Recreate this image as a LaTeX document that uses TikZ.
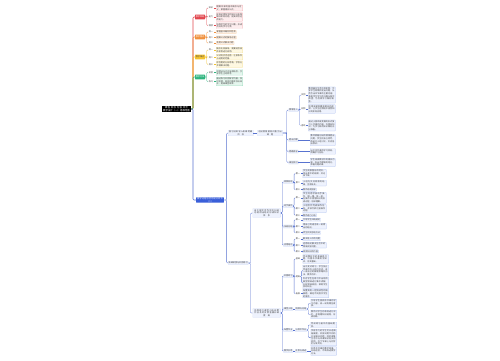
\documentclass[tikz,border=0pt]{standalone}
\usepackage{fontspec}
\newfontfamily\cjk{Noto Sans CJK SC}
\XeTeXlinebreaklocale "zh"
\XeTeXlinebreakskip=0pt plus 1pt
\usetikzlibrary{positioning}
\definecolor{redc}{HTML}{E2474F}\definecolor{redbg}{HTML}{FDEDEE}\definecolor{redbd}{HTML}{F4A9AE}
\definecolor{orgc}{HTML}{F0913E}\definecolor{orgbg}{HTML}{FEF2E7}\definecolor{orgbd}{HTML}{F8C899}
\definecolor{yelc}{HTML}{F2C230}\definecolor{yelbg}{HTML}{FEF8E1}\definecolor{yelbd}{HTML}{F3DE8E}
\definecolor{grnc}{HTML}{2FB57F}\definecolor{grnbg}{HTML}{E5F6EE}\definecolor{grnbd}{HTML}{94D9BA}
\definecolor{bluc}{HTML}{3A5FD9}\definecolor{blubg}{HTML}{EEF2FD}\definecolor{blubd}{HTML}{AABEF0}
\definecolor{bluln}{HTML}{5873D0}
\tikzset{
  txt/.style={font=\cjk\fontsize{2.1}{2.6}\selectfont, inner sep=0.6pt, text=black!75},
  tag/.style={txt, anchor=west},
  mid/.style={txt, anchor=west, fill=blubg, draw=blubd!60, line width=0.2pt, rounded corners=0.4pt},
  leaf/.style={txt, anchor=west, draw=#1bd, fill=#1bg, line width=0.2pt, rounded corners=0.4pt, align=left},
  brn/.style={txt, text=white, fill=#1c, rounded corners=0.5pt, minimum width=10pt, minimum height=4.6pt, inner sep=0.4pt},
  rootn/.style={font=\cjk\fontsize{2.4}{3.1}\selectfont, fill=black, text=white, align=center, text width=27pt, inner sep=0.8pt},
  lnk/.style={line width=0.35pt, rounded corners=1pt, draw=#1},
  elbow/.style={to path={-- ++(#1,0) |- (\tikztotarget)}},
}
\begin{document}
\begin{tikzpicture}[x=1pt, y=-1pt]
\fill[white] (0,0) rectangle (500,360);
\useasboundingbox (0,0) rectangle (500,360);

\node[rootn] (root) at (176.5,109) {课程 目标 内容 评价\\教学设计（一）思维导图};

%upper branches
\node[brn=red] (red) at (200,17) {教学目标};
\node[brn=org] (org) at (200,37) {教学重点};
\node[brn=yel, text=black!70] (yel) at (200,57) {教学难点};
\node[brn=grn] (grn) at (200,77) {教学方法};

\node[tag] (rt1) at (208,8) {知识};
\node[tag] (rt2) at (208,17) {能力};
\node[tag] (rt3) at (208,25.5) {情感};
\node[leaf=red, text width=25.5pt] (rb1) at (216,8) {理解本课的基本概念与定义，掌握相关公式。};
\node[leaf=red, text width=25.5pt] (rb2) at (216,17) {能够运用所学的知识分析和解决实际问题，提高综合运用能力。};
\node[leaf=red, text width=25.5pt] (rb3) at (216,25.5) {培养学生的学习兴趣，形成良好的学习习惯。};

\node[tag] (ot1) at (208,32) {其一};
\node[tag] (ot2) at (208,37.5) {其二};
\node[tag] (ot3) at (208,43) {其三};
\node[leaf=org] (ob1) at (216,32) {掌握基本概念和性质};
\node[leaf=org] (ob2) at (216,37.5) {理解公式的推导过程};
\node[leaf=org] (ob3) at (216,43) {会用公式解决问题};

\node[tag] (yt1) at (208,50) {其一};
\node[tag] (yt2) at (208,57.2) {其二};
\node[tag] (yt3) at (208,64.4) {其三};
\node[leaf=yel, text width=25.5pt] (yb1) at (216,50) {概念比较抽象，需要结合具体实例进行说明。};
\node[leaf=yel, text width=25.5pt] (yb2) at (216,57.2) {公式的灵活运用，注意条件与适用的范围。};
\node[leaf=yel, text width=25.5pt] (yb3) at (216,64.4) {综合题的分析思路，学会分步骤解决问题。};

\node[tag] (gt1) at (208,72.5) {讲授};
\node[tag] (gt2) at (208,81.5) {练习};
\node[leaf=grn, text width=25.5pt] (gb1) at (216,72.5) {讲授法与讨论法相结合，引导学生主动思考。};
\node[leaf=grn, text width=25.5pt] (gb2) at (216,81.5) {通过练习巩固所学内容，及时反馈，发现问题并加以纠正，提高课堂效率。};

%lower branch
\node[brn=blu, text width=27pt, align=center] (blu) at (210,200) {教学过程与活动设计环节\\（二）};

\node[mid, text width=24pt, align=center] (a1) at (228,133) {复习旧知 导入新课 明确\\目标};
\node[mid, text width=24pt, align=center, right=4pt of a1] (a1b) {创设情境 激发兴趣 引出\\课题};

\node[mid] (c1) at (288.5,110) {情境导入};
\node[tag] (c1t1) at (300.5,95) {实例};
\node[tag] (c1t2) at (300.5,109) {视频};
\node[tag] (c1t3) at (300.5,125.5) {游戏};
\node[leaf=blu, text width=26pt] (c1b1) at (308,95) {教师展示生活中的实例，引导学生观察并提出问题，从而引出本节课的主要内容，激发学生学习的兴趣与探究欲望，为后续学习做好铺垫。};
\node[leaf=blu, text width=26pt] (c1b2) at (308,109) {利用多媒体播放相关的视频，让学生在情境中感受知识的实际应用。};
\node[leaf=blu, text width=26pt] (c1b3) at (308,125.5) {通过小游戏或竞赛的形式复习上节课的内容，巩固旧知识，为学习新的知识做好充分准备。};
\node[mid] (c2) at (288.5,140) {提出问题};
\node[mid] (c3) at (288.5,151.5) {明确目标};
\node[mid] (c4) at (288.5,162.5) {课前预习};
\node[leaf=blu, text width=24pt] (c2b) at (310,140) {教师根据创设的情境提出问题，学生先独立思考，再进行小组讨论，交流各自想法。};
\node[leaf=blu, text width=24pt] (c3b) at (310,151.5) {出示本节课的学习目标，明确学习任务。};
\node[leaf=blu, text width=24pt] (c4b) at (310,162.5) {学生阅读教材中的相关内容，标出不理解的地方，带着问题听课。};

\node[mid] (a2) at (228,263) {新课讲授与巩固练习};
\node[mid, text width=27pt, align=center] (b1) at (252.5,213) {自主探究 合作交流 归纳\\总结 得出结论 形成知识\\体系};
\node[mid, text width=27pt, align=center] (b2) at (252.5,313) {巩固练习 课堂小结 布置\\作业 及时反馈 查漏补缺\\提高};

\node[mid] (d1) at (283.3,182) {观察发现};
\node[tag] (d1t1) at (295,173.5) {第一};
\node[tag] (d1t2) at (295,183) {第二};
\node[tag] (d1t3) at (295,189.6) {第三};
\node[leaf=blu, text width=22.5pt] (d1b1) at (302.5,173.5) {学生观察图形的特点，找出其中的规律，并记录下来。};
\node[leaf=blu, text width=22.5pt] (d1b2) at (302.5,183) {小组内交流观察的结果，互相补充。};
\node[leaf=blu] (d1b3) at (302.5,189.6) {教师巡视指导};

\node[mid] (d2) at (283.3,206) {动手操作};
\node[tag] (d2t1) at (295,197.8) {第一};
\node[tag] (d2t2) at (295,208.5) {第二};
\node[tag] (d2t3) at (295,215.2) {第三};
\node[leaf=blu, text width=22.5pt] (d2b1) at (302.5,197.8) {学生利用学具动手操作，摆一摆、拼一拼，在操作中感悟知识的形成过程，加深理解。};
\node[leaf=blu, text width=22.5pt] (d2b2) at (302.5,208.5) {小组合作完成操作任务，并派代表汇报操作过程。};
\node[leaf=blu] (d2b3) at (302.5,215.2) {教师进行小结};

\node[mid] (d3) at (283.3,226.5) {归纳总结};
\node[tag] (d3t1) at (295,219.8) {第一};
\node[tag] (d3t2) at (295,226.2) {第二};
\node[tag] (d3t3) at (295,232.6) {第三};
\node[leaf=blu] (d3b1) at (302.5,219.8) {引导学生归纳结论};
\node[leaf=blu, text width=22.5pt] (d3b2) at (302.5,226.2) {用自己的语言说一说得出的结论。};
\node[leaf=blu] (d3b3) at (302.5,232.6) {师生共同总结方法};

\node[mid] (d4) at (283.3,245) {应用结论};
\node[tag] (d4t1) at (295,239) {第一};
\node[tag] (d4t2) at (295,245.2) {第二};
\node[tag] (d4t3) at (295,251.4) {第三};
\node[leaf=blu] (d4b1) at (302.5,239) {解决导入中的问题};
\node[leaf=blu, text width=22.5pt] (d4b2) at (302.5,245.2) {运用结论解决生活中的简单实际问题。};
\node[leaf=blu] (d4b3) at (302.5,251.4) {体会知识的价值};

\node[mid] (e1) at (283.3,276) {巩固练习};
\node[tag] (e1t1) at (295,259) {基础};
\node[tag] (e1t2) at (295,276.5) {提高};
\node[tag] (e1t3) at (295,293.6) {拓展};
\node[leaf=blu, text width=25pt] (e1b1) at (302.5,259) {完成教材中的基础练习题，巩固本节课所学知识，夯实基础。};
\node[leaf=blu, text width=25pt] (e1b2) at (302.5,270.6) {出示变式练习，学生独立完成后在小组内交流，说一说自己的解题思路和方法，教师点评。};
\node[leaf=blu, text width=25pt] (e1b3) at (302.5,283) {针对学生在练习中出现的典型错误进行集中讲解，分析错误原因，帮助学生及时纠正。};
\node[leaf=blu, text width=25pt] (e1b4) at (302.5,293.6) {布置具有一定挑战性的拓展题，满足不同层次学生的需求。};

\node[mid] (e2) at (283.3,309) {课堂小结};
\node[mid] (e2s) at (295,309) {回顾与总结};
\node[leaf=blu, text width=25pt] (e2b1) at (310.5,303.5) {引导学生回顾本节课的学习内容，说一说有哪些收获。};
\node[leaf=blu, text width=25pt] (e2b2) at (310.5,314.5) {教师对学生的表现进行评价，并梳理知识结构，形成网络。};

\node[mid] (e3) at (283.3,330) {布置作业};
\node[mid] (e3s) at (295,330) {分层次作业};
\node[leaf=blu, text width=25pt] (e3b1) at (310.5,325) {完成练习册中的基础题目。};
\node[leaf=blu, text width=25pt] (e3b2) at (310.5,337.6) {学有余力的学生可以选做拓展题，并尝试用不同的方法解决问题；同时收集生活中与本课知识有关的实例，在下节课上与同学们分享交流。};

\node[mid] (e4) at (283.3,351) {教学反思};
\node[mid] (e4s) at (295,351) {反思与改进};
\node[leaf=blu, text width=25pt] (e4b1) at (310.5,351) {反思本节课的教学效果，总结经验，不断改进教学方法。};

%trunk
\draw[lnk=redc, line width=0.6pt] (root.east) to[elbow=2] (red.west);
\draw[lnk=orgc, line width=0.6pt] (root.east) to[elbow=2] (org.west);
\draw[lnk=yelc, line width=0.6pt] (root.east) to[elbow=2] (yel.west);
\draw[lnk=grnc, line width=0.6pt] (root.east) to[elbow=2] (grn.west);
\draw[lnk=bluln, line width=0.6pt] (root.east) to[elbow=2] (blu.west);

%upper leaves
\foreach \n in {1,2,3} {
  \draw[lnk=redc] (red.east) to[elbow=1.5] (rt\n.west);
  \draw[lnk=redc] (rt\n.east) -- (rb\n.west);
  \draw[lnk=orgc] (org.east) to[elbow=1.5] (ot\n.west);
  \draw[lnk=orgc] (ot\n.east) -- (ob\n.west);
  \draw[lnk=yelc] (yel.east) to[elbow=1.5] (yt\n.west);
  \draw[lnk=yelc] (yt\n.east) -- (yb\n.west);
}
\foreach \n in {1,2} {
  \draw[lnk=grnc] (grn.east) to[elbow=1.5] (gt\n.west);
  \draw[lnk=grnc] (gt\n.east) -- (gb\n.west);
}

%lower leaves
\draw[lnk=bluln] (blu.east) to[elbow=2.5] (a1.west);
\draw[lnk=bluln] (blu.east) to[elbow=2.5] (a2.west);
\draw[lnk=bluln] (a1.east) -- (a1b.west);
\foreach \n in {c1,c2,c3,c4}
  \draw[lnk=bluln] (a1b.east) to[elbow=4] (\n.west);
\foreach \n in {1,2,3} {
  \draw[lnk=bluln] (c1.east) to[elbow=1.2] (c1t\n.west);
  \draw[lnk=bluln] (c1t\n.east) -- (c1b\n.west);
}
\foreach \n in {2,3,4}
  \draw[lnk=bluln] (c\n.east) -- (c\n b.west);

\draw[lnk=bluln] (a2.east) to[elbow=2.2] (b1.west);
\draw[lnk=bluln] (a2.east) to[elbow=2.2] (b2.west);
\foreach \d in {1,2,3,4} {
  \draw[lnk=bluln] (b1.east) to[elbow=1.3] (d\d.west);
  \foreach \n in {1,2,3} {
    \draw[lnk=bluln] (d\d.east) to[elbow=1] (d\d t\n.west);
    \draw[lnk=bluln] (d\d t\n.east) -- (d\d b\n.west);
  }
}

\foreach \n in {e1,e2,e3,e4}
  \draw[lnk=bluln] (b2.east) to[elbow=1.3] (\n.west);
\foreach \n in {1,2,3}
  \draw[lnk=bluln] (e1.east) to[elbow=1] (e1t\n.west);
\draw[lnk=bluln] (e1t1.east) -- (e1b1.west);
\draw[lnk=bluln] (e1t2.east) to[elbow=0.8] (e1b2.west);
\draw[lnk=bluln] (e1t2.east) to[elbow=0.8] (e1b3.west);
\draw[lnk=bluln] (e1t3.east) -- (e1b4.west);
\foreach \n in {2,3,4}
  \draw[lnk=bluln] (e\n.east) -- (e\n s.west);
\draw[lnk=bluln] (e2s.east) to[elbow=1.3] (e2b1.west);
\draw[lnk=bluln] (e2s.east) to[elbow=1.3] (e2b2.west);
\draw[lnk=bluln] (e3s.east) to[elbow=1.3] (e3b1.west);
\draw[lnk=bluln] (e3s.east) to[elbow=1.3] (e3b2.west);
\draw[lnk=bluln] (e4s.east) -- (e4b1.west);
\end{tikzpicture}
\end{document}
